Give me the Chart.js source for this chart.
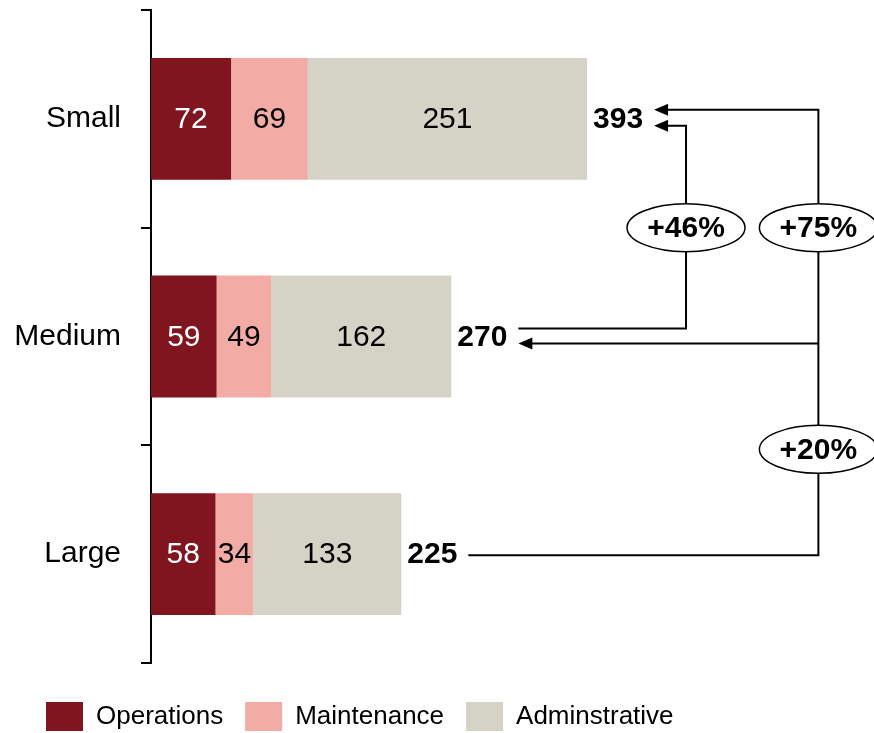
<!DOCTYPE html>
<html>
<head>
<meta charset="utf-8">
<script src="https://cdn.jsdelivr.net/npm/chart.js@4.4.0/dist/chart.umd.min.js"></script>
<style>
  html, body { margin: 0; padding: 0; background: #fff; }
  #chart { display: block; }
</style>
</head>
<body>
<canvas id="chart" width="874" height="733"></canvas>
<script>
// Dados do gráfico
const categories = ['Small', 'Medium', 'Large'];
const operations = [72, 59, 58];
const maintenance = [69, 49, 34];
const adminstrative = [251, 162, 133];
const totals = [393, 270, 225];
const seriesNames = ['Operations', 'Maintenance', 'Adminstrative'];

const seriesColors = ['#80151F', '#F2ABA5', '#D5D2C6'];
const valueColors = ['#FFFFFF', '#000000', '#000000'];

const FONT = "'Liberation Sans', Arial, Helvetica, sans-serif";

// posição das chaves de comparação (valores do eixo x)
const bracketInner = 481;
const bracketOuter = 600;

Chart.defaults.font.family = FONT;
Chart.defaults.color = '#000';

function pct(a, b) {
    return '+' + Math.round((totals[a] / totals[b] - 1) * 100) + '%';
}

// Valores dentro das barras e totais
const valueLabels = {
    id: 'valueLabels',
    afterDatasetsDraw(chart) {
        const ctx = chart.ctx;
        ctx.save();
        ctx.font = '30px ' + FONT;
        ctx.textAlign = 'center';
        ctx.textBaseline = 'middle';
        chart.data.datasets.forEach((ds, d) => {
            chart.getDatasetMeta(d).data.forEach((bar, i) => {
                ctx.fillStyle = valueColors[d];
                ctx.fillText(ds.data[i], (bar.x + bar.base) / 2, bar.y + 1);
            });
        });

        ctx.font = 'bold 30px ' + FONT;
        ctx.textAlign = 'left';
        ctx.fillStyle = '#000';
        const last = chart.getDatasetMeta(chart.data.datasets.length - 1).data;
        last.forEach((bar, i) => ctx.fillText(totals[i], bar.x + 6, bar.y + 1));
        ctx.restore();
    }
};

// Setas e elipses com as diferenças percentuais
const bracketArrows = {
    id: 'bracketArrows',
    afterDraw(chart) {
        const { ctx, scales: { x, y } } = chart;
        ctx.save();
        ctx.font = 'bold 30px ' + FONT;
        const last = chart.getDatasetMeta(chart.data.datasets.length - 1).data;
        const ends = last.map((bar, i) => bar.x + 6 + ctx.measureText(String(totals[i])).width + 11);
        const yc = categories.map((c, i) => y.getPixelForValue(i));
        const xIn = x.getPixelForValue(bracketInner);
        const xOut = x.getPixelForValue(bracketOuter);

        ctx.strokeStyle = '#000';
        ctx.fillStyle = '#000';
        ctx.lineWidth = 2;

        const line = (pts) => {
            ctx.beginPath();
            ctx.moveTo(pts[0][0], pts[0][1]);
            pts.slice(1).forEach(p => ctx.lineTo(p[0], p[1]));
            ctx.stroke();
        };
        const head = (tx, ty) => {
            ctx.beginPath();
            ctx.moveTo(tx, ty);
            ctx.lineTo(tx + 14, ty - 6);
            ctx.lineTo(tx + 14, ty + 6);
            ctx.closePath();
            ctx.fill();
        };

        // Large -> Small e ramo para Medium
        line([[ends[2], yc[2] + 1], [xOut, yc[2] + 1], [xOut, yc[0] - 9], [ends[0] + 12, yc[0] - 9]]);
        head(ends[0], yc[0] - 9);
        line([[xOut, yc[1] + 7], [ends[1] + 12, yc[1] + 7]]);
        head(ends[1], yc[1] + 7);

        // Medium -> Small
        line([[ends[1], yc[1] - 8], [xIn, yc[1] - 8], [xIn, yc[0] + 7], [ends[0] + 12, yc[0] + 7]]);
        head(ends[0], yc[0] + 7);

        const badge = (cx, cy, txt) => {
            ctx.beginPath();
            ctx.ellipse(cx, cy, 59, 24, 0, 0, Math.PI * 2);
            ctx.fillStyle = '#fff';
            ctx.fill();
            ctx.lineWidth = 1.5;
            ctx.stroke();
            ctx.fillStyle = '#000';
            ctx.textAlign = 'center';
            ctx.textBaseline = 'middle';
            ctx.fillText(txt, cx, cy + 1);
        };
        badge(xIn, y.getPixelForValue(0.5), pct(0, 1));
        badge(xOut, y.getPixelForValue(0.5), pct(0, 2));
        badge(xOut, y.getPixelForValue(1.5) + 4, pct(1, 2));
        ctx.restore();
    }
};

// a legenda começa um pouco mais à direita que o eixo
const legendOffset = {
    id: 'legendOffset',
    afterLayout(chart) {
        if (chart.legend) chart.legend.left = 24;
    }
};

const series = [operations, maintenance, adminstrative];

new Chart(document.getElementById('chart'), {
    type: 'bar',
    data: {
        labels: categories,
        datasets: series.map((data, d) => ({
            label: seriesNames[d],
            data: data,
            backgroundColor: seriesColors[d],
            borderWidth: 0,
            categoryPercentage: 1,
            barPercentage: 0.56
        }))
    },
    options: {
        indexAxis: 'y',
        responsive: false,
        animation: false,
        devicePixelRatio: 1,
        layout: {
            padding: { left: 0, top: 10, right: 0, bottom: -8 }
        },
        scales: {
            x: {
                stacked: true,
                min: 0,
                max: 650,
                ticks: { display: false },
                grid: { display: false },
                border: { display: false },
                afterFit(scale) { scale.height = 17; }
            },
            y: {
                stacked: true,
                grid: {
                    offset: true,
                    drawOnChartArea: false,
                    color: '#000',
                    lineWidth: 2,
                    tickLength: 10
                },
                border: { color: '#000', width: 2 },
                ticks: {
                    color: '#000',
                    font: { size: 30 },
                    padding: 20
                },
                afterFit(scale) {
                    scale.width = 151;
                    scale.paddingTop = 0;
                    scale.paddingBottom = 0;
                }
            }
        },
        plugins: {
            legend: {
                position: 'bottom',
                align: 'start',
                labels: {
                    boxWidth: 37,
                    boxHeight: 29,
                    padding: 22,
                    color: '#000',
                    font: { size: 26 }
                }
            },
            tooltip: { enabled: false }
        }
    },
    plugins: [valueLabels, bracketArrows, legendOffset]
});
</script>
</body>
</html>
